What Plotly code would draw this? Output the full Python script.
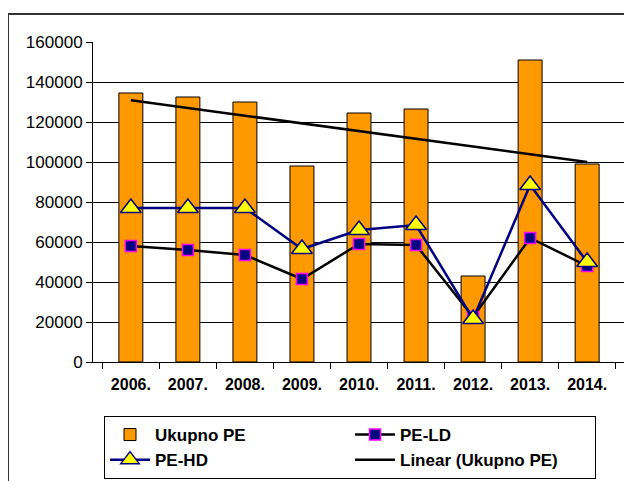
import numpy as np
import plotly.graph_objects as go

years = ["2006.", "2007.", "2008.", "2009.", "2010.", "2011.", "2012.", "2013.", "2014."]
ukupno_pe = [134500, 132500, 130000, 98000, 124500, 126500, 43000, 151000, 99000]
pe_ld = [58000, 56000, 53500, 41500, 59000, 58500, 22500, 62000, 48000]
pe_hd = [77000, 77000, 77000, 56500, 66000, 68500, 21500, 88500, 50000]
y_ticks = [0, 20000, 40000, 60000, 80000, 100000, 120000, 140000, 160000]

xi = np.arange(len(years))
coef = np.polyfit(xi, ukupno_pe, 1)
trend = np.polyval(coef, xi)

FONT = "Arial, Liberation Sans, sans-serif"

fig = go.Figure()
fig.add_trace(go.Bar(
    x=years, y=ukupno_pe, name="Ukupno PE",
    marker=dict(color="#FF9900", line=dict(color="#000000", width=1)),
))
fig.add_trace(go.Scatter(
    x=years, y=pe_ld, name="PE-LD", mode="lines+markers",
    line=dict(color="#000000", width=2.5),
    marker=dict(symbol="square", size=11, color="#000080",
                line=dict(color="#FF00FF", width=1.5)),
))
fig.add_trace(go.Scatter(
    x=years, y=pe_hd, name="PE-HD", mode="lines+markers",
    line=dict(color="#000080", width=2.5),
    marker=dict(symbol="triangle-up", size=18, color="#FFFF00",
                line=dict(color="#000080", width=1.5)),
))
fig.add_trace(go.Scatter(
    x=years, y=trend, name="Linear (Ukupno PE)", mode="lines",
    line=dict(color="#000000", width=2.5),
))

fig.update_layout(
    width=632, height=481,
    margin=dict(l=85, r=15, t=34, b=127, autoexpand=False),
    paper_bgcolor="white", plot_bgcolor="white",
    bargap=0.58,
    font=dict(family=FONT, color="#000000"),
    showlegend=True,
    legend=dict(
        orientation="h", x=0.0207, y=-0.16875, xanchor="left", yanchor="top",
        entrywidth=190, entrywidthmode="pixels",
        bordercolor="#000000", borderwidth=1, bgcolor="white",
        font=dict(family=FONT, size=17, color="#000000", weight="bold"),
        traceorder="normal", itemwidth=40, tracegroupgap=0,
    ),
    shapes=[dict(type="rect", xref="paper", yref="paper",
                 x0=(0 - 85) / 532, x1=1.1, y0=-1.0, y1=1 + 28 / 320,
                 line=dict(color="#333333", width=2), layer="below")],
)
fig.update_xaxes(
    type="category", showgrid=False, showline=True, linecolor="#000000", linewidth=1,
    ticks="outside", tickson="boundaries", ticklen=6, tickcolor="#000000", tickwidth=1,
    ticklabelstandoff=8,
    tickfont=dict(family=FONT, size=16, color="#000000", weight="bold"),
)
fig.update_yaxes(
    range=[0, 160000], tickvals=y_ticks, ticktext=[str(v) for v in y_ticks],
    showgrid=True, gridcolor="#000000", gridwidth=1,
    showline=True, linecolor="#000000", linewidth=1,
    ticks="outside", ticklen=6, tickcolor="#000000",
    tickfont=dict(family=FONT, size=17, color="#000000"),
    zeroline=False,
)

fig.write_html("out.html")
